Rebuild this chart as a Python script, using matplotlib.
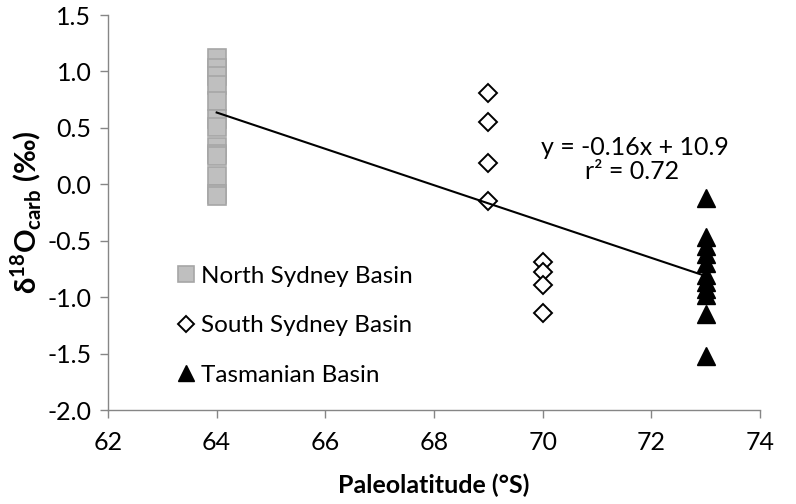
import numpy as np
import matplotlib
matplotlib.use("Agg")
import matplotlib.pyplot as plt

plt.rcParams['font.family'] = ['Lato', 'DejaVu Sans']
plt.rcParams['mathtext.fontset'] = 'custom'
plt.rcParams['mathtext.rm'] = 'Lato'
plt.rcParams['mathtext.bf'] = 'Lato:bold'

# Data
north_lat = 64
north_d18o = [1.12, 1.03, 0.96, 0.88, 0.74, 0.58, 0.51, 0.33, 0.27, 0.25, 0.07, -0.09, -0.10]
south_lat = [69, 69, 69, 69, 70, 70, 70, 70]
south_d18o = [0.81, 0.55, 0.19, -0.15, -0.69, -0.78, -0.89, -1.14]
tas_lat = 73
tas_d18o = [-0.12, -0.47, -0.55, -0.62, -0.70, -0.80, -0.87, -0.93, -0.98, -1.15, -1.52]
fit_slope = -0.161
fit_intercept = 10.94
fit_x = [64, 73]
eq_text = "y = -0.16x + 10.9"
r2_text = "r² = 0.72"
xticks = [62, 64, 66, 68, 70, 72, 74]
yticks = [-2.0, -1.5, -1.0, -0.5, 0.0, 0.5, 1.0, 1.5]

FS = 18

fig = plt.figure(figsize=(7.96, 5.04), dpi=100)
ax = fig.add_axes([108/796, 1-410/504, (760-108)/796, (410-15)/504])

ax.plot([north_lat]*len(north_d18o), north_d18o, linestyle='none', marker='s',
        markersize=12.5, markerfacecolor='#BFBFBF', markeredgecolor='#A6A6A6',
        markeredgewidth=1.2, label='North Sydney Basin', zorder=3)
ax.plot(south_lat, south_d18o, linestyle='none', marker='D', markersize=9.5,
        markerfacecolor='white', markeredgecolor='black', markeredgewidth=1.4,
        label='South Sydney Basin', zorder=3)
ax.plot([tas_lat]*len(tas_d18o), tas_d18o, linestyle='none', marker='^',
        markersize=13, markerfacecolor='black', markeredgecolor='black',
        label='Tasmanian Basin', zorder=3)

fx = np.array(fit_x, dtype=float)
ax.plot(fx, fit_slope*fx + fit_intercept, color='black', linewidth=1.5, zorder=4)

ax.text(71.7, 0.33, eq_text, ha='center', va='center', fontsize=FS, color='black')
ax.text(71.65, 0.11, r2_text, ha='center', va='center', fontsize=FS, color='black')

ax.set_xlim(62, 74)
ax.set_ylim(-2.0, 1.5)
ax.set_xticks(xticks)
ax.set_yticks(yticks)
ax.set_xticklabels([str(v) for v in xticks])
ax.set_yticklabels([f"{v:.1f}" for v in yticks])

for s in ['top', 'right']:
    ax.spines[s].set_visible(False)
for s in ['left', 'bottom']:
    ax.spines[s].set_color('#868686')
    ax.spines[s].set_linewidth(1.0)
ax.tick_params(axis='both', direction='out', length=6, width=1.0, color='#868686',
               labelsize=FS, labelcolor='black', pad=6)
ax.tick_params(axis='x', pad=9)

ax.set_xlabel('Paleolatitude (°S)', fontsize=FS, fontweight='bold', labelpad=14)
ax.set_ylabel(r'δ$^{\mathbf{18}}$O$_{\mathbf{carb}}$ (‰)', fontsize=21, fontweight='bold', labelpad=2)

leg = ax.legend(loc='center left', bbox_to_anchor=(0.105, 0.213), frameon=False,
                fontsize=17.5, handletextpad=0.2, handlelength=0.8, markerscale=0.9,
                labelspacing=1.17, borderaxespad=0, borderpad=0)

fig.savefig('out.png', dpi=100)
